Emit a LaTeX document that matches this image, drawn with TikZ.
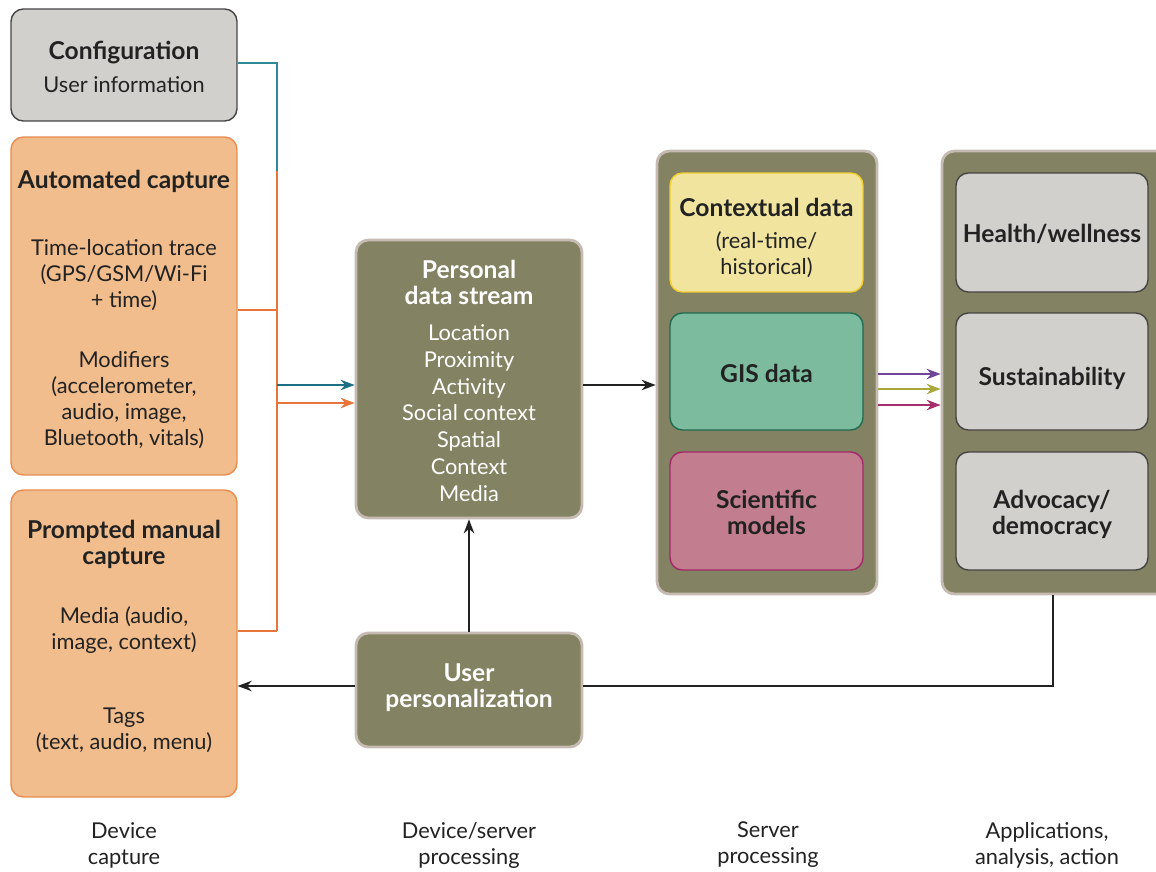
\documentclass[tikz,border=0pt]{standalone}
\usepackage{fontspec}
\setmainfont{Lato}
\usetikzlibrary{arrows.meta,positioning}

\definecolor{ink}{HTML}{222222}
\definecolor{greyfill}{HTML}{D1D0CC}
\definecolor{greyline}{HTML}{444444}
\definecolor{orangefill}{HTML}{F1BD8D}
\definecolor{orangeline}{HTML}{E98C4F}
\definecolor{olive}{HTML}{838262}
\definecolor{oliveline}{HTML}{C5BBB3}
\definecolor{yellowfill}{HTML}{F0E49F}
\definecolor{yellowline}{HTML}{F2CD2E}
\definecolor{greenfill}{HTML}{7CBB9D}
\definecolor{greenline}{HTML}{1F6B50}
\definecolor{pinkfill}{HTML}{C27D8E}
\definecolor{pinkline}{HTML}{A3286A}
\definecolor{tealline}{HTML}{2E8A96}
\definecolor{tealarrow}{HTML}{1D6F85}
\definecolor{orangearrow}{HTML}{E8743A}
\definecolor{purplearrow}{HTML}{6E4599}
\definecolor{limearrow}{HTML}{A9A83C}
\definecolor{magentaarrow}{HTML}{A3306B}

\tikzset{
  box/.style={draw, rounded corners=7pt, line width=0.8pt, inner sep=0pt},
  greybox/.style={box, fill=greyfill, draw=greyline},
  orangebox/.style={box, fill=orangefill, draw=orangeline, minimum width=4.52cm},
  olivebox/.style={box, fill=olive, draw=oliveline, line width=1.6pt},
  txt/.style={align=center, text=ink, yshift=-0.04cm, font=\fontsize{12.4}{14.8}\selectfont},
  ttl/.style={txt, font=\fontsize{14}{14.8}\selectfont\bfseries},
  wtxt/.style={txt, text=white},
  wttl/.style={ttl, text=white},
  conn/.style={line width=0.8pt},
  tip/.style={-{Stealth[length=8pt,width=6pt]}}
}

\begin{document}
\begin{tikzpicture}[x=0.02cm,y=-0.02cm]
\clip (0,0) rectangle (1156,872);
\fill[white] (0,0) rectangle (1156,872);

% device capture
\node[greybox, minimum width=4.52cm, minimum height=2.24cm] (conf) at (124,65) {};
\node[ttl] (confT) at (124,51) {Configuration};
\node[txt] (confU) at (124,83) {User information};

\node[orangebox, minimum height=6.76cm] (auto) at (124,306) {};
\node[ttl] (autoT) at (124,179) {Automated capture};
\node[txt] (autoA) at (124,273) {Time-location trace\\(GPS/GSM/Wi-Fi\\+ time)};
\node[txt] (autoB) at (124,398) {Modifiers\\(accelerometer,\\audio, image,\\Bluetooth, vitals)};

\node[orangebox, minimum height=6.14cm] (prompt) at (124,643.5) {};
\node[ttl] (promptT) at (124,542) {Prompted manual\\capture};
\node[txt] (promptA) at (124,628) {Media (audio,\\image, context)};
\node[txt] (promptB) at (124,728) {Tags\\(text, audio, menu)};

% device/server processing
\node[olivebox, minimum width=4.52cm, minimum height=5.56cm] (pds) at (469,379) {};
\node[wttl] (pdsT) at (469,280) {Personal\\data stream};
\node[wtxt, font=\fontsize{12.4}{15.2}\selectfont] (pdsL) at (469,411) {Location\\Proximity\\Activity\\Social context\\Spatial\\Context\\Media};

\node[olivebox, minimum width=4.52cm, minimum height=2.28cm] (pers) at (469,690) {};
\node[wttl] (persT) at (469,685.5) {User\\personalization};

% server processing
\node[olivebox, minimum width=4.4cm, minimum height=8.86cm] (server) at (767,372.5) {};
\node[box, fill=yellowfill, draw=yellowline, minimum width=3.86cm, minimum height=2.38cm] (ctx) at (766.5,232.5) {};
\node[ttl] (ctxT) at (766.5,205) {Contextual data};
\node[txt] (ctxS) at (766.5,253) {(real-time/\\historical)};
\node[box, fill=greenfill, draw=greenline, minimum width=3.86cm, minimum height=2.34cm] (gis) at (766.5,371.5) {};
\node[ttl] (gisT) at (766.5,371) {GIS data};
\node[box, fill=pinkfill, draw=pinkline, minimum width=3.86cm, minimum height=2.36cm] (sci) at (766.5,511) {};
\node[ttl] (sciT) at (766.5,510) {Scientific\\models};

% applications
\node[olivebox, minimum width=4.6cm, minimum height=8.86cm] (apps) at (1057,372.5) {};
\node[greybox, minimum width=3.84cm, minimum height=2.38cm] (health) at (1052,232.5) {};
\node[ttl] (healthT) at (1052,232) {Health/wellness};
\node[greybox, minimum width=3.84cm, minimum height=2.34cm] (sust) at (1052,371.5) {};
\node[ttl] (sustT) at (1052,376) {Sustainability};
\node[greybox, minimum width=3.84cm, minimum height=2.36cm] (adv) at (1052,511) {};
\node[ttl] (advT) at (1052,512) {Advocacy/\\democracy};

% column captions
\node[txt] (capA) at (124,843) {Device\\capture};
\node[txt] (capB) at (469,843) {Device/server\\processing};
\node[txt] (capC) at (768,843) {Server\\processing};
\node[txt] (capD) at (1047,843) {Applications,\\analysis, action};

% connectors
\coordinate (busTop) at (277,171);
\coordinate (busA) at (277,310);
\coordinate (busB) at (277,631);
\coordinate (inTeal) at (277,385);
\coordinate (inOrange) at (277,403);
\coordinate (outY) at (600,385);
\coordinate (fanA) at (900,374);
\coordinate (fanB) at (900,389);
\coordinate (fanC) at (900,405);
\coordinate (backY) at (1053,686);

\draw[conn, tealline] (conf.east |- 0,63) -| (busTop);
\draw[conn, orangearrow] (busTop) -- (busB);
\draw[conn, orangearrow] (auto.east |- busA) -- (busA);
\draw[conn, orangearrow] (prompt.east |- busB) -- (busB);
\draw[conn, tip, tealarrow] (inTeal) -- (pds.west |- inTeal);
\draw[conn, tip, orangearrow] (inOrange) -- (pds.west |- inOrange);
\draw[conn, tip, ink] (pds.east |- outY) -- (server.west |- outY);
\draw[conn, tip, purplearrow] (server.east |- fanA) -- (apps.west |- fanA);
\draw[conn, tip, limearrow] (server.east |- fanB) -- (apps.west |- fanB);
\draw[conn, tip, magentaarrow] (server.east |- fanC) -- (apps.west |- fanC);
\draw[conn, ink] (apps.south -| backY) |- (pers.east |- backY);
\draw[conn, tip, ink] (pers.north) -- (pds.south);
\draw[conn, tip, ink] (pers.west |- backY) -- (prompt.east |- backY);
\end{tikzpicture}
\end{document}
